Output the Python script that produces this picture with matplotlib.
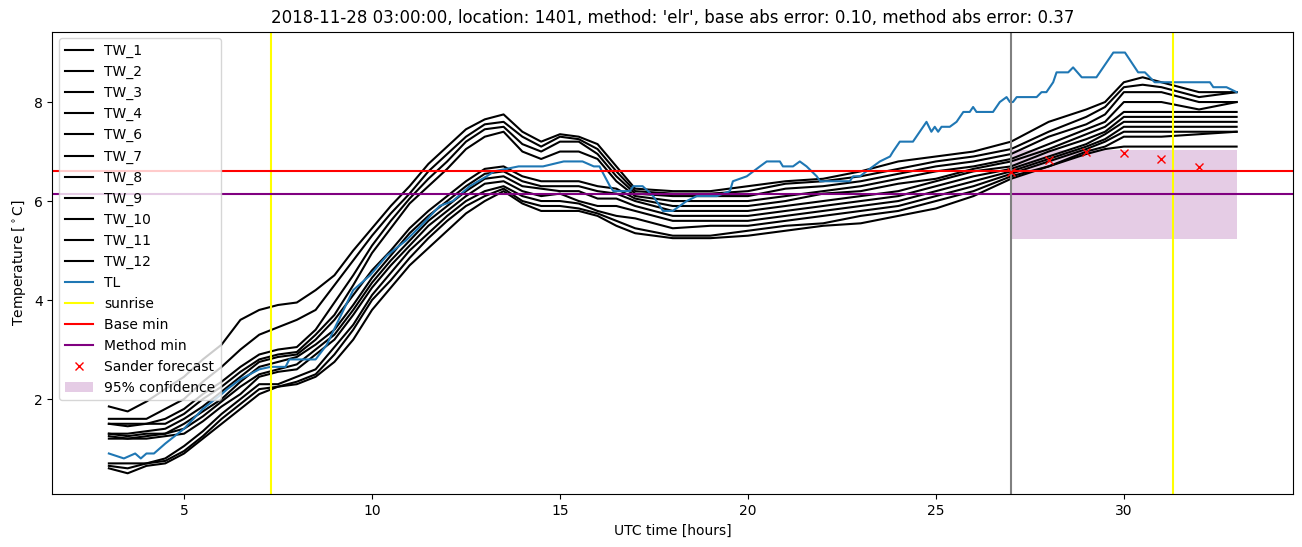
import numpy as np
import matplotlib
matplotlib.use('Agg')
import matplotlib.pyplot as plt

#%% data

# common time axis for the TW sensors [hours UTC]
tw_hours = [3, 3.5, 4, 4.5, 5, 5.5, 6, 6.5, 7, 7.5,
            8, 8.5, 9, 9.5, 10, 10.5, 11, 11.5, 12, 12.5,
            13, 13.5, 14, 14.5, 15, 15.5, 16, 16.5, 17, 18,
            19, 20, 21, 22, 23, 24, 25, 26, 27, 28,
            29, 29.5, 30, 30.5, 31, 32, 33]

tw_1 = [1.85, 1.75, 1.95, 2.2, 2.45, 2.8, 3.1, 3.6, 3.8, 3.9,
        3.95, 4.2, 4.5, 5.0, 5.45, 5.9, 6.3, 6.75, 7.1, 7.45,
        7.65, 7.75, 7.4, 7.2, 7.35, 7.3, 7.15, 6.7, 6.25, 6.2,
        6.2, 6.3, 6.4, 6.45, 6.6, 6.8, 6.9, 7.0, 7.2, 7.6,
        7.85, 8.0, 8.4, 8.5, 8.4, 8.2, 8.2]
tw_2 = [1.6, 1.6, 1.6, 1.8, 2.0, 2.35, 2.65, 3.0, 3.3, 3.45,
        3.6, 3.8, 4.3, 4.8, 5.3, 5.75, 6.15, 6.6, 6.95, 7.3,
        7.55, 7.6, 7.3, 7.1, 7.3, 7.25, 7.05, 6.6, 6.2, 6.15,
        6.15, 6.2, 6.35, 6.4, 6.5, 6.65, 6.8, 6.9, 7.05, 7.4,
        7.7, 7.9, 8.3, 8.35, 8.3, 8.1, 8.2]
tw_3 = [1.5, 1.5, 1.5, 1.6, 1.8, 2.1, 2.35, 2.65, 2.9, 3.0,
        3.05, 3.4, 3.95, 4.5, 5.1, 5.6, 6.05, 6.45, 6.8, 7.2,
        7.45, 7.5, 7.15, 7.0, 7.2, 7.2, 6.95, 6.5, 6.15, 6.1,
        6.1, 6.1, 6.25, 6.3, 6.4, 6.55, 6.7, 6.8, 6.95, 7.3,
        7.55, 7.75, 8.2, 8.2, 8.2, 8.0, 8.0]
tw_4 = [1.5, 1.45, 1.5, 1.5, 1.7, 2.0, 2.25, 2.55, 2.8, 2.9,
        2.95, 3.3, 3.7, 4.3, 4.95, 5.45, 5.95, 6.3, 6.65, 7.05,
        7.3, 7.4, 7.0, 6.85, 7.0, 7.0, 6.85, 6.4, 6.1, 6.0,
        6.0, 6.0, 6.1, 6.2, 6.3, 6.45, 6.6, 6.7, 6.85, 7.15,
        7.45, 7.6, 8.0, 8.0, 8.0, 7.85, 8.0]
tw_6 = [1.3, 1.3, 1.35, 1.4, 1.6, 1.85, 2.15, 2.45, 2.75, 2.85,
        2.9, 3.2, 3.6, 4.1, 4.6, 5.0, 5.45, 5.8, 6.1, 6.4,
        6.65, 6.7, 6.5, 6.4, 6.4, 6.4, 6.3, 6.25, 6.05, 5.9,
        5.9, 5.9, 6.0, 6.15, 6.2, 6.35, 6.45, 6.65, 6.8, 7.05,
        7.35, 7.5, 7.8, 7.8, 7.8, 7.8, 7.8]
tw_7 = [1.3, 1.25, 1.3, 1.3, 1.5, 1.75, 2.0, 2.35, 2.65, 2.75,
        2.85, 3.1, 3.4, 3.9, 4.45, 4.9, 5.35, 5.7, 6.0, 6.3,
        6.55, 6.6, 6.4, 6.3, 6.3, 6.3, 6.2, 6.15, 6.0, 5.8,
        5.8, 5.8, 5.9, 6.0, 6.1, 6.2, 6.4, 6.6, 6.7, 7.0,
        7.25, 7.4, 7.7, 7.7, 7.7, 7.7, 7.7]
tw_8 = [1.25, 1.2, 1.25, 1.3, 1.4, 1.65, 1.95, 2.25, 2.5, 2.6,
        2.7, 3.0, 3.3, 3.8, 4.35, 4.8, 5.2, 5.6, 5.9, 6.2,
        6.45, 6.5, 6.3, 6.25, 6.2, 6.2, 6.05, 6.05, 5.9, 5.7,
        5.7, 5.7, 5.8, 5.9, 6.0, 6.1, 6.3, 6.5, 6.65, 6.9,
        7.15, 7.35, 7.6, 7.6, 7.6, 7.6, 7.6]
tw_9 = [1.2, 1.2, 1.2, 1.25, 1.3, 1.55, 1.85, 2.1, 2.45, 2.55,
        2.6, 2.9, 3.2, 3.7, 4.25, 4.7, 5.1, 5.5, 5.8, 6.1,
        6.35, 6.4, 6.2, 6.1, 6.15, 6.0, 5.9, 5.9, 5.8, 5.6,
        5.6, 5.6, 5.7, 5.8, 5.9, 6.0, 6.2, 6.4, 6.6, 6.85,
        7.1, 7.25, 7.5, 7.5, 7.5, 7.5, 7.5]
tw_10 = [0.7, 0.7, 0.7, 0.8, 1.05, 1.35, 1.7, 2.0, 2.3, 2.3,
         2.45, 2.6, 3.05, 3.5, 4.1, 4.55, 5.0, 5.35, 5.7, 6.0,
         6.2, 6.3, 6.1, 6.0, 6.0, 5.95, 5.8, 5.7, 5.65, 5.45,
         5.5, 5.5, 5.6, 5.7, 5.8, 5.9, 6.1, 6.3, 6.55, 6.8,
         7.05, 7.2, 7.4, 7.4, 7.4, 7.4, 7.4]
tw_11 = [0.65, 0.6, 0.7, 0.75, 0.95, 1.25, 1.6, 1.9, 2.2, 2.25,
         2.35, 2.5, 2.9, 3.4, 4.0, 4.4, 4.85, 5.25, 5.6, 5.9,
         6.1, 6.25, 6.0, 5.9, 5.9, 5.85, 5.75, 5.6, 5.45, 5.3,
         5.3, 5.4, 5.5, 5.55, 5.7, 5.8, 6.0, 6.2, 6.5, 6.7,
         7.0, 7.1, 7.3, 7.3, 7.3, 7.35, 7.4]
tw_12 = [0.6, 0.5, 0.65, 0.7, 0.9, 1.2, 1.5, 1.8, 2.1, 2.25,
         2.3, 2.45, 2.75, 3.2, 3.8, 4.25, 4.7, 5.05, 5.4, 5.75,
         6.0, 6.2, 5.95, 5.8, 5.8, 5.8, 5.7, 5.5, 5.35, 5.25,
         5.25, 5.3, 5.4, 5.5, 5.55, 5.7, 5.85, 6.1, 6.45, 6.7,
         6.95, 7.05, 7.1, 7.1, 7.1, 7.1, 7.1]

tw_names = ['TW_1', 'TW_2', 'TW_3', 'TW_4', 'TW_6', 'TW_7',
            'TW_8', 'TW_9', 'TW_10', 'TW_11', 'TW_12']
tw_series = [tw_1, tw_2, tw_3, tw_4, tw_6, tw_7, tw_8, tw_9, tw_10, tw_11, tw_12]

# TL (air temperature) has its own breakpoints
tl_hours = [3.0, 3.4, 3.7, 3.85, 4.0, 4.2, 4.5, 5.0, 5.25, 5.5,
            6.0, 6.15, 6.5, 7.0, 7.3, 7.7, 7.8, 8.5, 8.8, 9.05,
            9.5, 9.95, 10.4, 10.9, 11.3, 11.8, 12.15, 12.6, 13.05, 13.25,
            13.9, 14.55, 15.1, 15.6, 15.9, 16.05, 16.33, 16.42, 16.86, 16.95,
            17.2, 17.48, 17.74, 18.0, 18.37, 18.64, 19.17, 19.52, 19.6, 19.97,
            20.32, 20.5, 20.85, 20.93, 21.2, 21.38, 21.56, 21.83, 21.92, 22.71,
            22.8, 22.98, 23.24, 23.51, 23.78, 23.86, 24.04, 24.39, 24.75, 24.88,
            24.97, 25.06, 25.15, 25.37, 25.55, 25.73, 25.9, 25.99, 26.08, 26.52,
            26.7, 26.88, 26.97, 27.05, 27.15, 27.68, 27.81, 27.94, 28.12, 28.21,
            28.52, 28.65, 28.88, 29.27, 29.72, 30.03, 30.38, 30.56, 30.82, 32.29,
            32.38, 32.73, 33.0]
tl_temp = [0.9, 0.8, 0.9, 0.8, 0.9, 0.9, 1.1, 1.4, 1.6, 1.8,
           2.1, 2.2, 2.4, 2.6, 2.65, 2.65, 2.8, 2.8, 3.1, 3.5,
           4.2, 4.5, 4.9, 5.2, 5.5, 5.9, 6.0, 6.3, 6.5, 6.6,
           6.7, 6.7, 6.8, 6.8, 6.7, 6.7, 6.3, 6.2, 6.2, 6.3,
           6.3, 6.1, 5.8, 5.8, 6.0, 6.1, 6.1, 6.2, 6.4, 6.5,
           6.7, 6.8, 6.8, 6.7, 6.7, 6.8, 6.7, 6.5, 6.4, 6.4,
           6.5, 6.5, 6.65, 6.8, 6.9, 7.0, 7.2, 7.2, 7.6, 7.4,
           7.5, 7.4, 7.5, 7.5, 7.6, 7.8, 7.8, 7.9, 7.8, 7.8,
           8.0, 8.1, 8.0, 8.0, 8.1, 8.1, 8.2, 8.2, 8.4, 8.6,
           8.6, 8.7, 8.5, 8.5, 9.0, 9.0, 8.6, 8.6, 8.4, 8.4,
           8.3, 8.3, 8.2]

sunrise = [7.31, 31.3]
base_min = 6.61
method_min = 6.15
forecast_start = 27

sander_hours = [27, 28, 29, 30, 31, 32]
sander_temp = [6.59, 6.83, 7.0, 6.98, 6.84, 6.69]
conf_hours = [27, 33]
conf_low = 5.23
conf_high = 7.03

title = ("2018-11-28 03:00:00, location: 1401, method: 'elr', "
         "base abs error: 0.10, method abs error: 0.37")

#%% plot

fig = plt.figure(figsize=(13.02, 5.47), dpi=100)
ax = fig.add_axes([0.0403, 0.0963, 0.9528, 0.8461])

for name, vals in zip(tw_names, tw_series):
    ax.plot(tw_hours, vals, color='black', label=name)
ax.plot(tl_hours, tl_temp, color='C0', label='TL')

ax.axvline(sunrise[0], color='yellow', label='sunrise')
ax.axvline(sunrise[1], color='yellow')
ax.axhline(base_min, color='red', label='Base min')
ax.axhline(method_min, color='purple', label='Method min')
ax.axvline(forecast_start, color='grey')

ax.plot(sander_hours, sander_temp, 'rx', label='Sander forecast')
ax.fill_between(conf_hours, conf_low, conf_high, color='purple', alpha=0.2,
                linewidth=0, label='95% confidence')

ax.set_title(title)
ax.set_xlabel('UTC time [hours]')
ax.set_ylabel(r'Temperature [$^\circ$C]')
ax.legend(loc='upper left')

fig.savefig('out.png', dpi=100)
